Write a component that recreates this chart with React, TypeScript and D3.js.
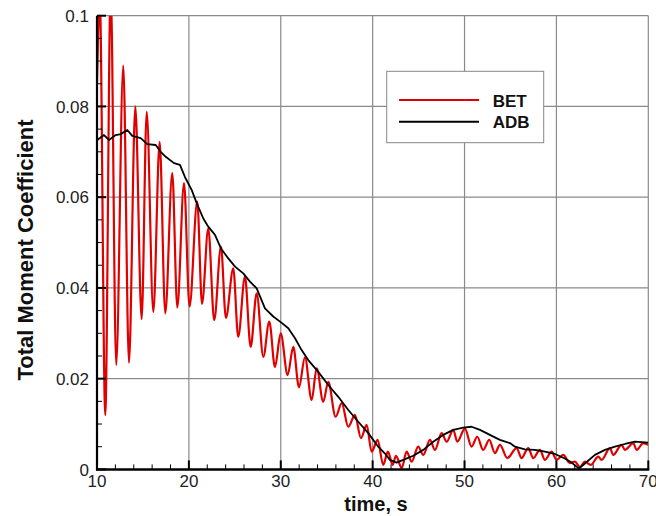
import React from "react";
import * as d3 from "d3";

// BET series (red): time, value at extrema
const betTime = [
  10.0, 10.3, 10.9, 11.49, 12.09, 12.86, 13.48, 14.17, 14.86, 15.41, 16.13, 16.82, 17.43, 18.19, 18.74,
  19.47, 20.07, 20.91, 21.43, 22.11, 22.76, 23.49, 24.03, 24.83, 25.37, 26.1, 26.72, 27.38, 28.1,
  28.75, 29.37, 29.99, 30.75, 31.36, 31.98, 32.63, 33.36, 33.91, 34.62, 35.17, 35.97, 36.63, 37.35,
  38.07, 38.73, 39.35, 39.89, 40.54, 41.15, 41.66, 42.18, 42.54, 43.16, 43.7, 44.24, 44.96, 45.51,
  46.24, 46.78, 47.51, 48.05, 48.77, 49.21, 50.04, 50.77, 51.38, 52.03, 52.69, 53.31, 53.85, 54.65,
  55.67, 56.21, 56.93, 57.48, 58.2, 58.75, 59.48, 60.02, 60.74, 61.47, 62.01, 62.56, 63.1, 63.75,
  64.55, 64.92, 65.82, 66.18, 67.09, 67.45, 68.36, 68.73, 69.45, 70.0,
];
const betValue = [
  0.085, 0.104, 0.012, 0.106, 0.023, 0.089, 0.0235, 0.08, 0.0331, 0.0788, 0.0347, 0.0722, 0.0344, 0.0653, 0.0357,
  0.0631, 0.0359, 0.059, 0.0365, 0.0531, 0.0329, 0.0491, 0.0334, 0.0443, 0.0292, 0.0425, 0.027, 0.0388, 0.0248,
  0.0326, 0.0226, 0.03, 0.0208, 0.027, 0.0181, 0.0247, 0.0153, 0.0223, 0.0149, 0.0193, 0.0116, 0.0146, 0.0094,
  0.012, 0.0069, 0.0098, 0.0039, 0.0065, 0.001, 0.0039, 0.001, 0.003, 0.0003, 0.0039, 0.0017, 0.005, 0.0032,
  0.0065, 0.0043, 0.008, 0.0061, 0.0087, 0.0061, 0.009, 0.005, 0.0072, 0.0043, 0.0065, 0.0036, 0.0054, 0.0025,
  0.0047, 0.0025, 0.0047, 0.0025, 0.0043, 0.0021, 0.0039, 0.0021, 0.0032, 0.0014, 0.0017, 0.0005, 0.0017, 0.001,
  0.0028, 0.0021, 0.0047, 0.0032, 0.0054, 0.0043, 0.0058, 0.0043, 0.0058, 0.0054,
];

// ADB series (black)
const adbTime = [
  10.03, 10.76, 11.31, 12.03, 12.58, 13.3, 13.84, 14.76, 15.47, 16.39, 16.93, 17.48, 18.38, 19.03, 19.58,
  20.3, 20.85, 21.57, 22.11, 22.84, 23.49, 24.29, 25.02, 25.92, 26.65, 27.38, 28.28, 29.18, 30.1, 30.82,
  31.55, 32.27, 32.99, 34.08, 35.17, 36.26, 37.35, 38.43, 39.52, 40.61, 41.34, 41.88, 42.61, 43.33, 44.42,
  45.51, 46.59, 47.68, 48.77, 49.86, 50.77, 51.68, 52.76, 53.85, 54.94, 55.48, 56.57, 57.66, 58.75, 59.84,
  60.92, 61.65, 62.45, 63.1, 64.19, 65.28, 66.37, 67.45, 68.54, 70.0,
];
const adbValue = [
  0.0726, 0.0737, 0.0726, 0.0737, 0.0739, 0.0748, 0.0735, 0.073, 0.0717, 0.0715, 0.07, 0.0689, 0.0675, 0.0671, 0.0644,
  0.0616, 0.0587, 0.0553, 0.0535, 0.0517, 0.0487, 0.0465, 0.0447, 0.0432, 0.0414, 0.0399, 0.0355, 0.0337, 0.0323, 0.0311,
  0.0289, 0.0263, 0.0241, 0.0215, 0.0186, 0.016, 0.0131, 0.0105, 0.008, 0.005, 0.0035, 0.0021, 0.0015, 0.0021, 0.003,
  0.0043, 0.0061, 0.0076, 0.0087, 0.0092, 0.0094, 0.0087, 0.0076, 0.0065, 0.0058, 0.005, 0.0044, 0.0043, 0.0039, 0.0034,
  0.0024, 0.0015, 0.0002, 0.0013, 0.0032, 0.0043, 0.005, 0.0056, 0.0061, 0.0059,
];

const xMajor = [10, 20, 30, 40, 50, 60, 70];
const xMinor = d3.range(12, 70, 2).filter((v) => v % 10 !== 0);
const yMajor = [0, 0.02, 0.04, 0.06, 0.08, 0.1];
const yMinor = d3.range(0.005, 0.1, 0.005).filter((v) => Math.abs(v / 0.02 - Math.round(v / 0.02)) > 1e-6);
const yLabels = ["0", "0.02", "0.04", "0.06", "0.08", "0.1"];
const legendNames = ["BET", "ADB"];
const legendColors = ["#e00000", "#000000"];

export default function App() {
  const W = 656;
  const H = 516;
  const x = d3.scaleLinear().domain([10, 70]).range([97, 648.3]);
  const y = d3.scaleLinear().domain([0, 0.1]).range([469.4, 15.7]);
  const font = "Arial, 'Liberation Sans', Helvetica, sans-serif";

  const bet = betTime.map((t, i) => [t, betValue[i]] as [number, number]);
  const adb = adbTime.map((t, i) => [t, adbValue[i]] as [number, number]);
  const betLine = d3
    .line<[number, number]>()
    .x((d) => x(d[0]))
    .y((d) => y(d[1]))
    .curve(d3.curveMonotoneX);
  const adbLine = d3
    .line<[number, number]>()
    .x((d) => x(d[0]))
    .y((d) => y(d[1]));

  const [x0, x1] = x.range();
  const [yb, yt] = y.range();
  const grid = "#8a8a8a";

  return (
    <svg
      width={W}
      height={H}
      style={{ position: "absolute", left: 0, top: 0, background: "#fff" }}
      fontFamily={font}
    >
      <defs>
        <clipPath id="plot">
          <rect x={x0} y={yt} width={x1 - x0} height={yb - yt} />
        </clipPath>
      </defs>
      <rect x={0} y={0} width={W} height={H} fill="#fff" />
      {/* grid */}
      {xMajor.slice(1).map((v) => (
        <line key={"gx" + v} x1={x(v)} x2={x(v)} y1={yb} y2={yt} stroke={grid} strokeWidth={1.2} />
      ))}
      {yMajor.slice(1).map((v) => (
        <line key={"gy" + v} x1={x0} x2={x1} y1={y(v)} y2={y(v)} stroke={grid} strokeWidth={1.2} />
      ))}

      {/* data */}
      <g clipPath="url(#plot)">
        <path d={betLine(bet) || ""} fill="none" stroke="#e00000" strokeWidth={2.2} strokeLinejoin="round" />
        <path d={adbLine(adb) || ""} fill="none" stroke="#000" strokeWidth={1.8} strokeLinejoin="round" />
      </g>

      {/* axes */}
      <line x1={x0} x2={x0} y1={yt} y2={yb + 1} stroke="#000" strokeWidth={2.2} />
      <line x1={x0 - 1} x2={x1 + 1} y1={yb} y2={yb} stroke="#000" strokeWidth={2.5} />
      {yMajor.map((v) => (
        <line key={"ty" + v} x1={x0} x2={x0 + 9} y1={y(v)} y2={y(v)} stroke="#000" strokeWidth={2} />
      ))}
      {yMinor.map((v) => (
        <line key={"tym" + v} x1={x0} x2={x0 + 5} y1={y(v)} y2={y(v)} stroke="#000" strokeWidth={1} />
      ))}
      {xMajor.map((v) => (
        <line key={"tx" + v} x1={x(v)} x2={x(v)} y1={yb} y2={yb - 9} stroke="#000" strokeWidth={2} />
      ))}
      {xMinor.map((v) => (
        <line key={"txm" + v} x1={x(v)} x2={x(v)} y1={yb} y2={yb - 5} stroke="#000" strokeWidth={1} />
      ))}

      {/* tick labels */}
      {yMajor.map((v, i) => (
        <text key={"ly" + v} x={89} y={y(v)} dy="0.36em" textAnchor="end" fontSize={17} fill="#222">
          {yLabels[i]}
        </text>
      ))}
      {xMajor.map((v) => (
        <text key={"lx" + v} x={x(v)} y={487} textAnchor="middle" fontSize={17} fill="#222">
          {v}
        </text>
      ))}

      {/* axis titles */}
      <text x={376} y={511} textAnchor="middle" fontSize={20} fontWeight="bold" fill="#111">
        time, s
      </text>
      <text
        transform={`translate(33, 250) rotate(-90)`}
        textAnchor="middle"
        fontSize={22}
        fontWeight="bold"
        fill="#111"
      >
        Total Moment Coefficient
      </text>

      {/* legend */}
      <rect x={386.7} y={71.3} width={157} height={71.4} fill="#fff" stroke="#888" strokeWidth={1} />
      {legendNames.map((n, i) => (
        <g key={n}>
          <line x1={399} x2={479} y1={100 + i * 21.7} y2={100 + i * 21.7} stroke={legendColors[i]} strokeWidth={2} />
          <text x={492.7} y={106.5 + i * 21.7} fontSize={17} fontWeight="bold" fill="#111">
            {n}
          </text>
        </g>
      ))}
    </svg>
  );
}
